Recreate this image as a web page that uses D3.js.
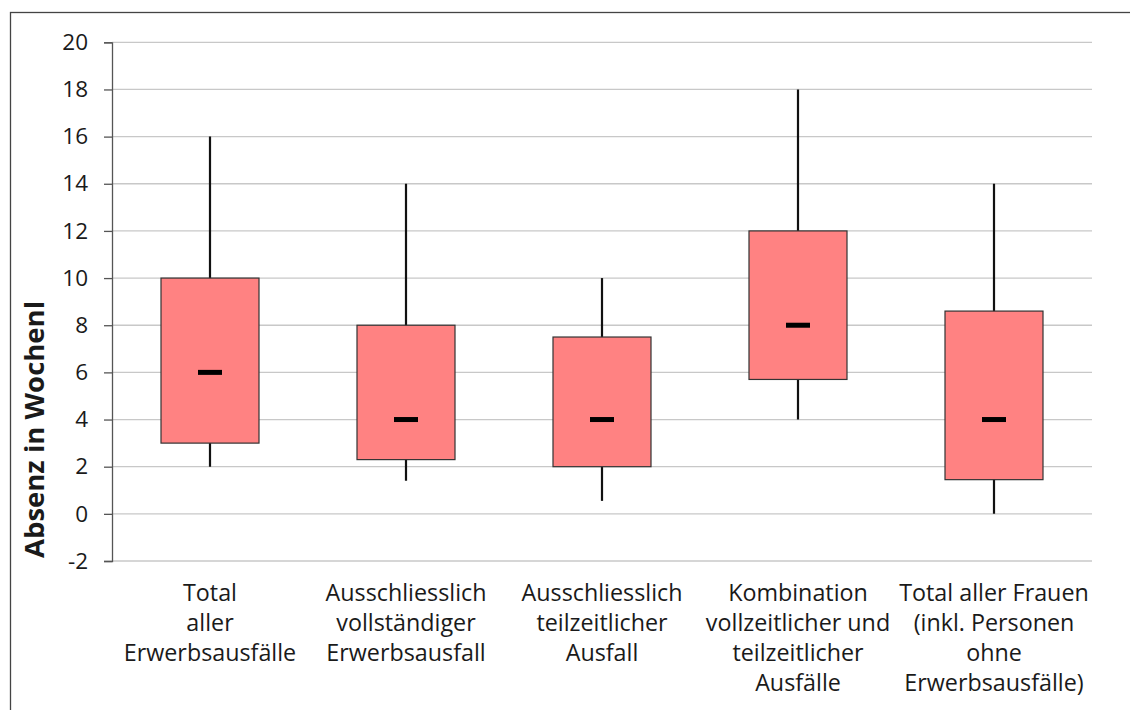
<!DOCTYPE html>
<html>
<head>
<meta charset="utf-8">
<script src="https://cdn.jsdelivr.net/npm/d3@7"></script>
<style>
  body { margin: 0; background: #fff; }
  text { font-family: "Open Sans", "Noto Sans", sans-serif; fill: #1a1a1a; }
</style>
</head>
<body>
<div id="chart"></div>
<script>
// Chart values
const categories = [
  ["Total", "aller", "Erwerbsausfälle"],
  ["Ausschliesslich", "vollständiger", "Erwerbsausfall"],
  ["Ausschliesslich", "teilzeitlicher", "Ausfall"],
  ["Kombination", "vollzeitlicher und", "teilzeitlicher", "Ausfälle"],
  ["Total aller Frauen", "(inkl. Personen", "ohne", "Erwerbsausfälle)"]
];
const minValues = [2, 1.4, 0.55, 4, 0];
const q1Values = [3, 2.3, 2, 5.7, 1.45];
const medianValues = [6, 4, 4, 8, 4];
const q3Values = [10, 8, 7.5, 12, 8.6];
const maxValues = [16, 14, 10, 18, 14];
const yTicks = [-2, 0, 2, 4, 6, 8, 10, 12, 14, 16, 18, 20];
const yTitle = "Absenz in Wochenl";

const width = 1130, height = 710;
const margin = { top: 42.3, right: 38, bottom: 149, left: 112 };

const svg = d3.select("#chart")
  .append("svg")
  .attr("width", width)
  .attr("height", height);

// outer frame
svg.append("rect")
  .attr("x", 10.5).attr("y", 12.5)
  .attr("width", width + 20).attr("height", height + 20)
  .attr("fill", "none")
  .attr("stroke", "#444")
  .attr("stroke-width", 1.3);

const xScale = d3.scaleBand()
  .domain(d3.range(categories.length))
  .range([margin.left, width - margin.right]);

const yScale = d3.scaleLinear()
  .domain([-2, 20])
  .range([height - margin.bottom, margin.top]);

// gridlines
svg.append("g")
  .selectAll("line")
  .data(yTicks)
  .join("line")
  .attr("x1", margin.left)
  .attr("x2", width - margin.right)
  .attr("y1", d => yScale(d))
  .attr("y2", d => yScale(d))
  .attr("stroke", "#c8c8c8")
  .attr("stroke-width", 1.3);

// y axis
const yAxis = svg.append("g")
  .attr("transform", "translate(" + margin.left + ",0)")
  .call(d3.axisLeft(yScale).tickValues(yTicks).tickSize(8).tickPadding(16)
    .tickFormat(d => String(d)));
yAxis.select(".domain").attr("stroke", "#555").attr("stroke-width", 1.3);
yAxis.selectAll(".tick line").attr("stroke", "#555").attr("stroke-width", 1.3);
yAxis.selectAll(".tick text")
  .attr("font-size", 22.5)
  .attr("font-family", "'Open Sans', sans-serif")
  .attr("fill", "#1a1a1a");

const idx = d3.range(categories.length);
const cx = i => xScale(i) + xScale.bandwidth() / 2;
const boxW = xScale.bandwidth() / 2;

// whiskers
svg.append("g")
  .selectAll("line")
  .data(idx)
  .join("line")
  .attr("x1", cx).attr("x2", cx)
  .attr("y1", i => yScale(minValues[i]))
  .attr("y2", i => yScale(maxValues[i]))
  .attr("stroke", "#111")
  .attr("stroke-width", 2.2);

// boxes
svg.append("g")
  .selectAll("rect")
  .data(idx)
  .join("rect")
  .attr("x", i => cx(i) - boxW / 2)
  .attr("width", boxW)
  .attr("y", i => yScale(q3Values[i]))
  .attr("height", i => yScale(q1Values[i]) - yScale(q3Values[i]))
  .attr("fill", "#ff8282")
  .attr("stroke", "#333")
  .attr("stroke-width", 1.2);

// medians
svg.append("g")
  .selectAll("rect")
  .data(idx)
  .join("rect")
  .attr("x", i => cx(i) - 12)
  .attr("width", 24)
  .attr("y", i => yScale(medianValues[i]) - 2.5)
  .attr("height", 5)
  .attr("fill", "#000");

// category labels
svg.append("g")
  .selectAll("text")
  .data(idx)
  .join("text")
  .attr("text-anchor", "middle")
  .attr("font-size", 23.3)
  .attr("x", cx)
  .attr("y", 601)
  .selectAll("tspan")
  .data(i => categories[i].map(t => ({ t, x: cx(i) })))
  .join("tspan")
  .attr("x", d => d.x)
  .attr("dy", (d, j) => j === 0 ? 0 : 30)
  .text(d => d.t);

// y title
svg.append("text")
  .attr("transform", "translate(44,558) rotate(-90)")
  .attr("text-anchor", "start")
  .attr("font-size", 27.5)
  .attr("font-weight", "bold")
  .text(yTitle);
</script>
</body>
</html>
